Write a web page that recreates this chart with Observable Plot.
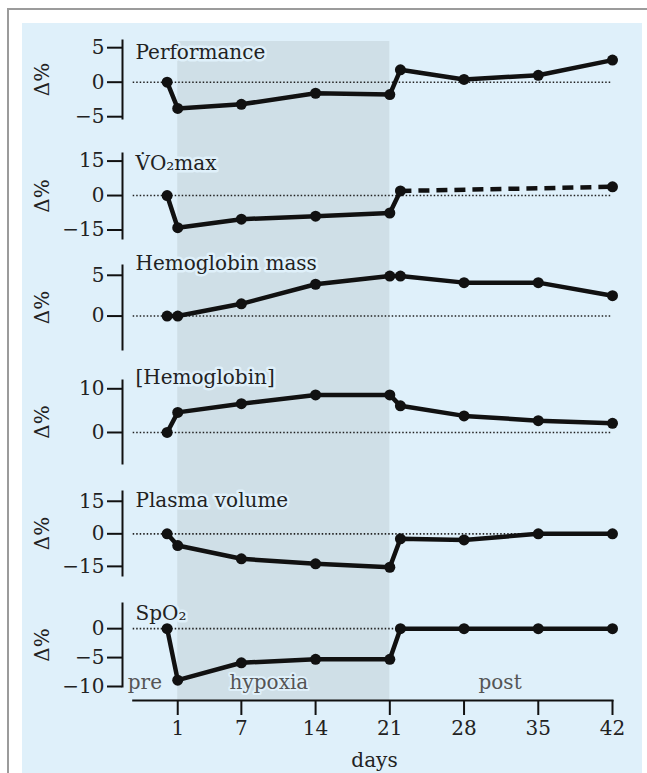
<!DOCTYPE html>
<html><head><meta charset="utf-8">
<script src="https://cdn.jsdelivr.net/npm/d3@7"></script>
<script src="https://cdn.jsdelivr.net/npm/@observablehq/plot@0.6"></script>
<style>
body{margin:0;background:#fff;}
#page{position:relative;width:647px;height:773px;overflow:hidden;background:#fff;font-family:"DejaVu Serif",serif;}
#border{position:absolute;left:7px;top:8px;width:700px;height:800px;border-left:2px solid #9b9b9b;border-top:2px solid #9b9b9b;}
#bg{position:absolute;left:22px;top:23px;width:620px;height:760px;background:#dff0fa;}
</style></head><body><div id="page"><div id="border"></div><div id="bg"></div></div>
<script>
// ---- data ----
const days = [0, 1, 7, 14, 21, 22, 28, 35, 42];
const vo2maxDays = [0, 1, 7, 14, 21, 22, 42];
const performance = [0, -3.8, -3.2, -1.6, -1.8, 1.8, 0.4, 1.0, 3.2];
const vo2max = [0, -14, -10.3, -9.0, -7.6, 2.0, 3.8];
const hemoglobinMass = [0, 0, 1.5, 3.9, 4.9, 4.9, 4.1, 4.1, 2.5];
const hemoglobin = [0, 4.6, 6.6, 8.6, 8.6, 6.1, 3.8, 2.7, 2.1];
const plasmaVolume = [0, -5.4, -11.5, -13.8, -15.4, -2.3, -2.8, 0, 0];
const spo2 = [0, -8.9, -5.9, -5.3, -5.3, 0, 0, 0, 0];
const panelNames = ["Performance", "V\u0307O\u2082max", "Hemoglobin mass", "[Hemoglobin]", "Plasma volume", "SpO\u2082"];
const yTickValues = [[-5, 0, 5], [-15, 0, 15], [0, 5], [0, 10], [-15, 0, 15], [-10, -5, 0]];
const yDomains = [[-5.26, 6.04], [-18.7, 18.3], [-4.1, 6.2], [-7.1, 11.9], [-19.2, 19.5], [-10, 4.35]];
const xTickDays = [1, 7, 14, 21, 28, 35, 42];
const xDomain = [-3.2, 42];
const hypoxiaPeriod = [1, 21];
const phaseNames = ["pre", "hypoxia", "post"];
const phaseLabelDays = [-2.1, 9.6, 31.4];
const yLabel = "\u0394%";
const xLabel = "days";

// ---- layout / style ----
const W = 647;
const BG = "#dff0fa", SHADE = "#cfdfe7", INK = "#111";
const FONT = "DejaVu Serif";
const FS = 20;
const mL = 122, mR = 35, xInset = 10.7;
// per panel: y-axis top px, y-axis bottom px, label center y px
const layout = [
  {top: 40, bottom: 118, labelY: 51.7},
  {top: 153, bottom: 238, labelY: 163.3},
  {top: 265, bottom: 349, labelY: 263.3},
  {top: 380, bottom: 463, labelY: 376.7},
  {top: 491, bottom: 575, labelY: 500},
  {top: 603, bottom: 686, labelY: 613}
];
const xAxisGap = 14; // distance from last panel's y-axis bottom to x axis line
const pageH = 773;

const page = document.getElementById("page");
function place(svg, top) {
  svg.style.position = "absolute";
  svg.style.left = "0px";
  svg.style.top = top + "px";
  page.appendChild(svg);
}

// shaded hypoxia period spanning all panels
const shadeTop = 40.7, shadeBottom = layout[5].bottom + xAxisGap;
place(Plot.plot({
  width: W, height: shadeBottom - shadeTop,
  marginLeft: mL, marginRight: mR, marginTop: 0, marginBottom: 0,
  style: {background: "transparent", overflow: "visible"},
  x: {domain: xDomain, insetLeft: xInset, axis: null},
  marks: [Plot.rect([hypoxiaPeriod], {x1: d => d[0], x2: d => d[1], fill: SHADE})]
}), shadeTop);

const series = [
  days.map((d, i) => ({day: d, value: performance[i]})),
  vo2maxDays.map((d, i) => ({day: d, value: vo2max[i]})),
  days.map((d, i) => ({day: d, value: hemoglobinMass[i]})),
  days.map((d, i) => ({day: d, value: hemoglobin[i]})),
  days.map((d, i) => ({day: d, value: plasmaVolume[i]})),
  days.map((d, i) => ({day: d, value: spo2[i]}))
];

const mt = 35;
layout.forEach((L, p) => {
  const last = p === layout.length - 1;
  const span = L.bottom - L.top;
  const extra = last ? xAxisGap : 0;
  const mb = last ? pageH - (L.bottom + extra) : 12;
  const data = series[p];
  const lineStyle = {x: "day", y: "value", stroke: INK, strokeWidth: 4.5, strokeLinejoin: "round", strokeLinecap: "round"};
  const marks = [
    Plot.ruleY([0], {insetLeft: xInset, stroke: "#222", strokeWidth: 1.6, strokeDasharray: "1.5,2"}),
    Plot.frame({anchor: "left", stroke: INK, strokeWidth: 2, insetBottom: extra}),
    Plot.axisY(yTickValues[p], {tickSize: 15, tickPadding: 3, fontSize: FS, strokeWidth: 2, stroke: INK, fill: "#222", label: null}),
    Plot.text([yLabel], {frameAnchor: "left", rotate: -90, dx: 42 - mL, dy: last ? -7 : 0, textAnchor: "middle", lineAnchor: "middle", fontSize: FS, fill: "#222"})
  ];
  if (p === 1) {
    marks.push(Plot.line(data.filter(d => d.day <= 22), lineStyle));
    marks.push(Plot.line(data.filter(d => d.day >= 22), {...lineStyle, strokeDasharray: "11,7", strokeLinecap: "butt"}));
  } else {
    marks.push(Plot.line(data, lineStyle));
  }
  marks.push(Plot.dot(data, {x: "day", y: "value", r: 5.5, fill: INK}));
  marks.push(Plot.text([panelNames[p]], {frameAnchor: "top-left", textAnchor: "start", lineAnchor: "middle", dx: 13, dy: L.labelY - L.top, fontSize: FS, fill: "#222", stroke: BG, strokeWidth: 5}));
  if (last) {
    marks.push(Plot.frame({anchor: "bottom", stroke: INK, strokeWidth: 2, insetLeft: xInset}));
    marks.push(Plot.axisX(xTickDays, {tickSize: 15, tickPadding: 5, fontSize: FS, strokeWidth: 2, stroke: INK, fill: "#222", label: null}));
    marks.push(Plot.text(phaseNames, {x: (d, i) => phaseLabelDays[i], frameAnchor: "bottom", dy: -18, textAnchor: "middle", lineAnchor: "middle", fontSize: FS, fill: "#555", stroke: BG, strokeWidth: 4}));
    marks.push(Plot.text([xLabel], {frameAnchor: "bottom", dx: 7, dy: 60, textAnchor: "middle", lineAnchor: "middle", fontSize: FS, fill: "#222"}));
  }
  const svg = Plot.plot({
    width: W, height: mt + span + extra + mb,
    marginLeft: mL, marginRight: mR, marginTop: mt, marginBottom: mb,
    style: {background: "transparent", overflow: "visible", fontFamily: FONT, fontSize: FS + "px"},
    x: {domain: xDomain, insetLeft: xInset, axis: null},
    y: {domain: yDomains[p], insetBottom: extra},
    marks
  });
  place(svg, L.top - mt);
});
</script></body></html>
